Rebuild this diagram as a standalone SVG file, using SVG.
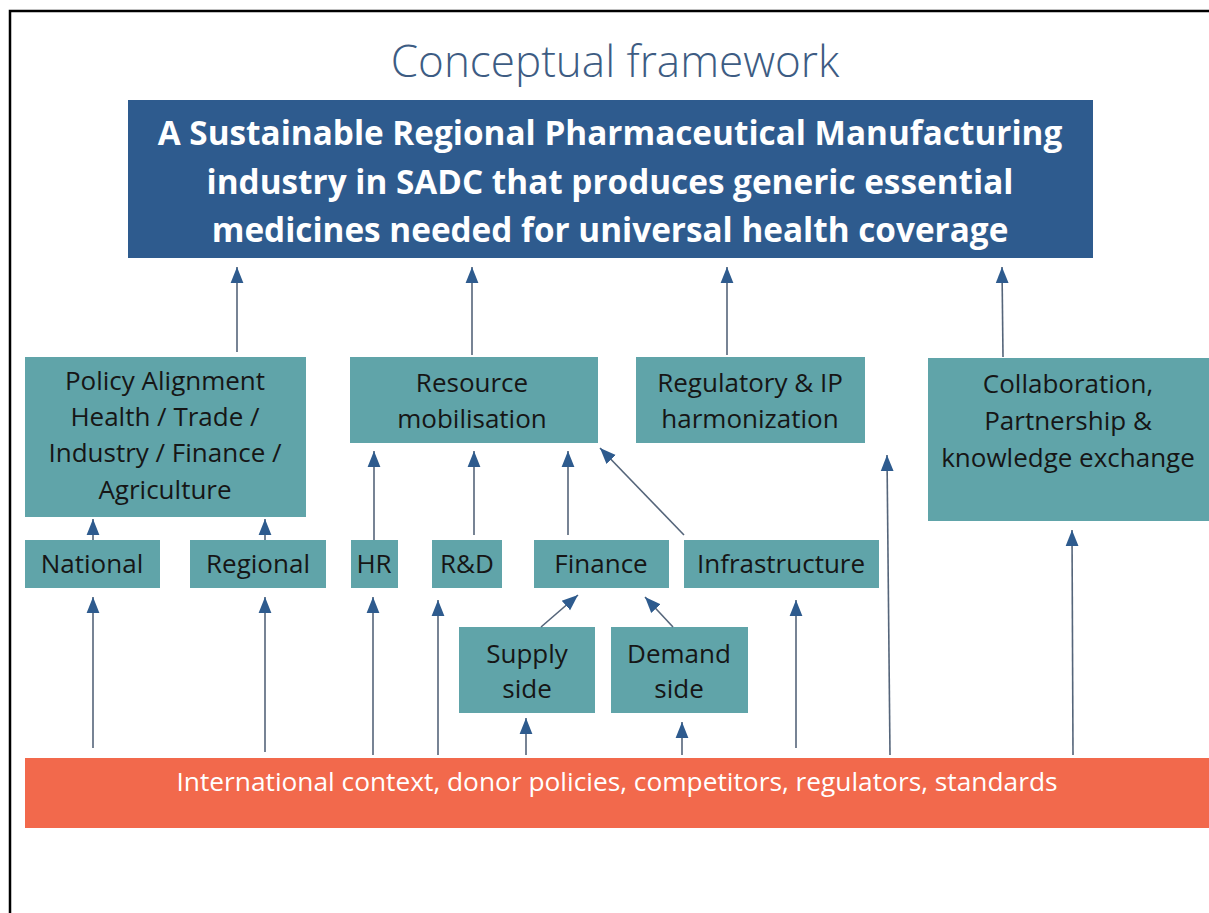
<svg xmlns="http://www.w3.org/2000/svg" width="1209" height="913" viewBox="0 0 1209 913">
  <style>
    .frame { fill: none; stroke: #000; stroke-width: 2.5; }
    .goal { fill: #2E5B8E; }
    .goal-text { font-family: "Open Sans", Lato, "Liberation Sans", sans-serif; font-weight: bold; font-size: 33.3px; fill: #fff; text-anchor: middle; }
    .box { fill: #60A4A9; }
    .label { font-family: "Open Sans", Lato, "Liberation Sans", sans-serif; font-size: 26px; fill: #161616; text-anchor: middle; }
    .base { fill: #F2694C; }
    .base-text { font-family: "Open Sans", Lato, "Liberation Sans", sans-serif; font-size: 26.3px; fill: #fff; text-anchor: middle; }
    .title { font-family: "Open Sans", Lato, "Liberation Sans", sans-serif; font-weight: 300; font-size: 44px; fill: #3D5C83; text-anchor: middle; }
  </style>
  <defs>
    <marker id="tip" markerUnits="userSpaceOnUse" markerWidth="16" markerHeight="20" viewBox="0 0 20 16" refX="20" refY="8" orient="auto">
      <path d="M0,0 L20,8 L0,16 Z" fill="#2E5B8E"/>
    </marker>
  </defs>

  <rect width="1209" height="913" fill="#fff"/>
  <path class="frame" d="M10,913 V11 H1209"/>

  <text class="title" x="615" y="77">Conceptual framework</text>

  <g id="goal">
    <rect class="goal" x="128" y="100" width="965" height="158"/>
    <text class="goal-text" x="610" y="145">A Sustainable Regional Pharmaceutical Manufacturing</text>
    <text class="goal-text" x="610" y="194">industry in SADC that produces generic essential</text>
    <text class="goal-text" x="610" y="242">medicines needed for universal health coverage</text>
  </g>

  <g id="policy">
    <rect class="box" x="25" y="357" width="281" height="160"/>
    <text class="label" x="165" y="390">Policy Alignment</text>
    <text class="label" x="165" y="426">Health / Trade /</text>
    <text class="label" x="165" y="462">Industry / Finance /</text>
    <text class="label" x="165" y="499">Agriculture</text>
  </g>

  <g id="resource">
    <rect class="box" x="350" y="357" width="248" height="86"/>
    <text class="label" x="472" y="392">Resource</text>
    <text class="label" x="472" y="428">mobilisation</text>
  </g>

  <g id="regulatory">
    <rect class="box" x="636" y="357" width="229" height="86"/>
    <text class="label" x="750" y="392">Regulatory &amp; IP</text>
    <text class="label" x="750" y="428">harmonization</text>
  </g>

  <g id="collaboration">
    <rect class="box" x="928" y="358" width="281" height="163"/>
    <text class="label" x="1068" y="393">Collaboration,</text>
    <text class="label" x="1068" y="430">Partnership &amp;</text>
    <text class="label" x="1068" y="467">knowledge exchange</text>
  </g>

  <g id="national">
    <rect class="box" x="25" y="540" width="135" height="48"/>
    <text class="label" x="92" y="573">National</text>
  </g>
  <g id="regional">
    <rect class="box" x="190" y="540" width="136" height="48"/>
    <text class="label" x="258" y="573">Regional</text>
  </g>
  <g id="hr">
    <rect class="box" x="351" y="540" width="47" height="48"/>
    <text class="label" x="374" y="573">HR</text>
  </g>
  <g id="rnd">
    <rect class="box" x="432" y="540" width="70" height="48"/>
    <text class="label" x="467" y="573">R&amp;D</text>
  </g>
  <g id="finance">
    <rect class="box" x="534" y="540" width="135" height="48"/>
    <text class="label" x="601" y="573">Finance</text>
  </g>
  <g id="infrastructure">
    <rect class="box" x="684" y="540" width="195" height="48"/>
    <text class="label" x="781" y="573">Infrastructure</text>
  </g>

  <g id="supply">
    <rect class="box" x="459" y="627" width="136" height="86"/>
    <text class="label" x="527" y="663">Supply</text>
    <text class="label" x="527" y="698">side</text>
  </g>
  <g id="demand">
    <rect class="box" x="611" y="627" width="137" height="86"/>
    <text class="label" x="679" y="663">Demand</text>
    <text class="label" x="679" y="698">side</text>
  </g>

  <g id="context">
    <rect class="base" x="25" y="758" width="1184" height="70"/>
    <text class="base-text" x="617" y="791">International context, donor policies, competitors, regulators, standards</text>
  </g>

  <g id="connectors" fill="none" stroke="#55657A" stroke-width="1.6" marker-end="url(#tip)">
    <!-- pillars into the goal -->
    <path d="M237,352 V267"/>
    <path d="M472,355 V267"/>
    <path d="M727,355 V267"/>
    <path d="M1003,357 L1002,267"/>
    <!-- levels into policy alignment -->
    <path d="M93,540 V519"/>
    <path d="M265,540 V519"/>
    <!-- inputs into resource mobilisation -->
    <path d="M374,540 V451"/>
    <path d="M474,535 V451"/>
    <path d="M568,535 V451"/>
    <path d="M684,535 L600,448"/>
    <!-- finance sources -->
    <path d="M541,627 L578,595"/>
    <path d="M673,627 L645,597"/>
    <!-- from the international context -->
    <path d="M93,748 V597"/>
    <path d="M265,752 V597"/>
    <path d="M373,755 V597"/>
    <path d="M438,755 V600"/>
    <path d="M526,755 V718"/>
    <path d="M682,755 V722"/>
    <path d="M796,748 V600"/>
    <path d="M890,755 L887,455"/>
    <path d="M1073,755 L1072,530"/>
  </g>
</svg>
